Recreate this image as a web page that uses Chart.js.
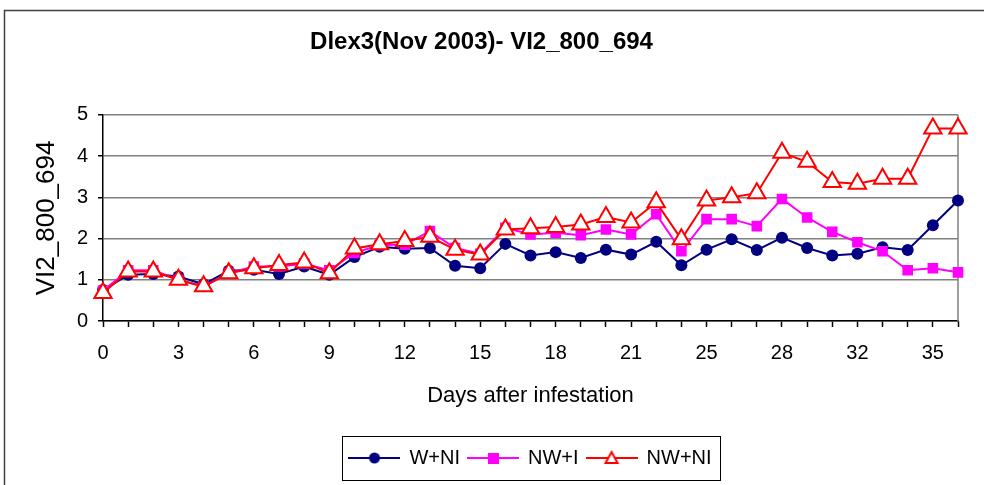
<!DOCTYPE html>
<html>
<head>
<meta charset="utf-8">
<script src="https://cdn.jsdelivr.net/npm/chart.js@4"></script>
<style>
  html, body { margin: 0; padding: 0; background: #fff; }
</style>
</head>
<body>
<canvas id="chart" width="984" height="485"></canvas>
<script>
// days after infestation (category axis)
const days = [0, 1, 2, 3, 4, 5, 6, 7, 8, 9, 10, 11, 12, 13, 14, 15, 16, 17, 18, 19, 20, 21, 22,
              24, 25, 26, 27, 28, 29, 30, 32, 33, 34, 35, 36];
const labelEvery = 3;

const wNI = [0.75, 1.12, 1.14, 1.08, 0.89, 1.22, 1.24, 1.14, 1.32, 1.12, 1.55, 1.80, 1.75, 1.77, 1.34, 1.28,
             1.87, 1.59, 1.67, 1.53, 1.73, 1.61, 1.92, 1.35, 1.73, 1.98, 1.72, 2.02, 1.77, 1.59, 1.63,
             1.79, 1.72, 2.32, 2.92];
const nwI = [0.73, 1.23, 1.23, 1.00, 0.83, 1.16, 1.32, 1.32, 1.39, 1.23, 1.65, 1.84, 1.85, 2.18, 1.77, 1.63,
             2.26, 2.10, 2.14, 2.08, 2.22, 2.10, 2.59, 1.69, 2.47, 2.47, 2.30, 2.96, 2.51, 2.16, 1.91,
             1.69, 1.23, 1.28, 1.18];
const nwNI = [0.68, 1.20, 1.20, 1.00, 0.84, 1.16, 1.28, 1.36, 1.42, 1.16, 1.76, 1.86, 1.94, 2.04, 1.73, 1.61,
              2.22, 2.25, 2.28, 2.34, 2.52, 2.39, 2.88, 1.98, 2.92, 3.00, 3.10, 4.08, 3.86, 3.37, 3.33,
              3.45, 3.45, 4.67, 4.67];

const seriesNames = ["W+NI", "NW+I", "NW+NI"];
const yTicks = [0, 1, 2, 3, 4, 5];

const FONT = "'Liberation Sans', Arial, Helvetica, sans-serif";

// legend swatch: short line with the marker in the middle, like Excel
function swatch(color, marker) {
    const c = document.createElement("canvas");
    c.width = 52; c.height = 20;
    const g = c.getContext("2d");
    g.strokeStyle = color;
    g.lineWidth = 2;
    g.beginPath(); g.moveTo(0, 10); g.lineTo(52, 10); g.stroke();
    if (marker === "circle") {
        g.fillStyle = color;
        g.beginPath(); g.arc(26, 10, 5.5, 0, Math.PI * 2); g.fill();
    } else if (marker === "rect") {
        g.fillStyle = color;
        g.fillRect(21, 5, 11, 11);
    } else {
        g.fillStyle = "#fff";
        g.beginPath(); g.moveTo(26, 4); g.lineTo(32, 15); g.lineTo(20, 15); g.closePath();
        g.fill(); g.stroke();
    }
    return c;
}

const framePlugin = {
    id: "frame",
    beforeDraw(chart) {
        const ctx = chart.ctx;
        ctx.save();
        ctx.fillStyle = "#fff";
        ctx.fillRect(0, 0, chart.width, chart.height);
        ctx.strokeStyle = "#404040";
        ctx.lineWidth = 1.5;
        ctx.strokeRect(4.5, 10.5, chart.width + 10, chart.height + 10);
        ctx.restore();
    },
    beforeDatasetsDraw(chart) {
        const a = chart.chartArea;
        const ctx = chart.ctx;
        ctx.save();
        ctx.strokeStyle = "#808080";
        ctx.lineWidth = 1.5;
        ctx.beginPath();
        ctx.moveTo(a.right, a.top);
        ctx.lineTo(a.right, a.bottom);
        ctx.stroke();
        ctx.restore();
    },
    afterDraw(chart) {
        const hb = chart.legend.legendHitBoxes;
        if (!hb || !hb.length) return;
        const l = Math.min(...hb.map(h => h.left)) - 7;
        const r = Math.max(...hb.map(h => h.left + h.width)) + 9;
        const t = hb[0].top - 12;
        const b = hb[0].top + hb[0].height + 12;
        const ctx = chart.ctx;
        ctx.save();
        ctx.strokeStyle = "#000";
        ctx.lineWidth = 1;
        ctx.strokeRect(Math.round(l) + 0.5, Math.round(t) + 0.5, Math.round(r - l), Math.round(b - t));
        ctx.restore();
    }
};

const datasets = [
    {
        label: seriesNames[0], data: wNI, order: 2,
        borderColor: "#000080", backgroundColor: "#000080", borderWidth: 2,
        pointStyle: "circle", pointRadius: 6, pointBorderWidth: 0,
        legendImage: swatch("#000080", "circle")
    },
    {
        label: seriesNames[1], data: nwI, order: 1,
        borderColor: "#FF00FF", backgroundColor: "#FF00FF", borderWidth: 2,
        pointStyle: "rect", pointRadius: 7.5, pointBorderWidth: 0,
        legendImage: swatch("#FF00FF", "rect")
    },
    {
        label: seriesNames[2], data: nwNI, order: 0,
        borderColor: "#FF0000", backgroundColor: "#FFFFFF", borderWidth: 2,
        pointStyle: "triangle", pointRadius: 10, pointBorderWidth: 2,
        pointBorderColor: "#FF0000", pointBackgroundColor: "#FFFFFF",
        legendImage: swatch("#FF0000", "triangle")
    }
];
datasets.forEach(d => { d.tension = 0; d.fill = false; });

new Chart(document.getElementById("chart"), {
    type: "line",
    data: { labels: days, datasets },
    options: {
        responsive: false,
        animation: false,
        devicePixelRatio: 1,
        layout: { padding: { left: 5, right: 26, top: 0, bottom: 7 } },
        plugins: {
            tooltip: { enabled: false },
            title: {
                display: true,
                text: "Dlex3(Nov 2003)- VI2_800_694",
                color: "#000",
                font: { family: FONT, size: 24, weight: "bold" },
                padding: { top: 28, bottom: 58 }
            },
            legend: {
                position: "bottom",
                fullSize: false,
                labels: {
                    color: "#000",
                    font: { family: FONT, size: 20 },
                    usePointStyle: true,
                    pointStyleWidth: 50,
                    padding: 8,
                    generateLabels: (chart) => chart.data.datasets.map((d, i) => ({
                        text: d.label,
                        pointStyle: d.legendImage,
                        datasetIndex: i,
                        fontColor: "#000",
                        lineWidth: 0,
                        strokeStyle: "transparent",
                        fillStyle: "transparent"
                    }))
                }
            }
        },
        scales: {
            x: {
                offset: false,
                afterFit: (s) => { s.height = 119; },
                border: { color: "#000", width: 1.5 },
                grid: { drawOnChartArea: false, drawTicks: true, tickLength: 6, tickColor: "#000", tickWidth: 1.5 },
                ticks: {
                    autoSkip: false, maxRotation: 0, padding: 14, color: "#000",
                    font: { family: FONT, size: 20 },
                    callback: (v, i) => (i % labelEvery === 0 ? String(days[i]) : "")
                },
                title: {
                    display: true, text: "Days after infestation", color: "#000",
                    font: { family: FONT, size: 22 },
                    padding: { top: 0, bottom: 31 }
                }
            },
            y: {
                min: yTicks[0], max: yTicks[yTicks.length - 1],
                afterFit: (s) => { s.width = 98; },
                border: { color: "#000", width: 1.5 },
                grid: { color: "#808080", lineWidth: 1.5, drawTicks: true, tickLength: 5, tickColor: "#000" },
                afterBuildTicks: (s) => { s.ticks = yTicks.map(v => ({ value: v })); },
                ticks: { padding: 10, color: "#000", font: { family: FONT, size: 20 } },
                title: {
                    display: true, text: "VI2_800_694", color: "#000",
                    font: { family: FONT, size: 26 },
                    padding: { top: 26, bottom: 0 }
                }
            }
        }
    },
    plugins: [framePlugin]
});
</script>
</body>
</html>
